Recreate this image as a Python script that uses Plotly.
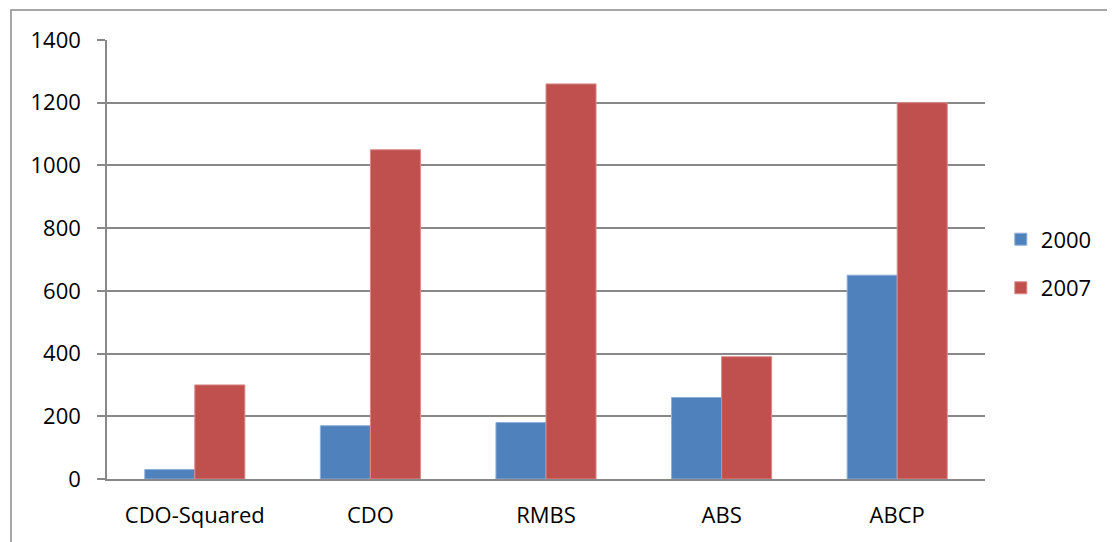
import plotly.graph_objects as go

categories = ["CDO-Squared", "CDO", "RMBS", "ABS", "ABCP"]
values_2000 = [30, 170, 180, 260, 650]
values_2007 = [300, 1050, 1260, 390, 1200]
y_ticks = [0, 200, 400, 600, 800, 1000, 1200, 1400]

FONT = "Open Sans, Lato, sans-serif"
GRID = "#888888"

fig = go.Figure()
fig.add_trace(go.Bar(name="2000", x=categories, y=values_2000, legendgroup="a",
                     marker=dict(color="#4F81BD", line=dict(color="#8EAEDB", width=1))))
fig.add_trace(go.Bar(name="2007", x=categories, y=values_2007, legendgroup="b",
                     marker=dict(color="#C0504D", line=dict(color="#D98A88", width=1))))

fig.update_layout(
    width=1107, height=534,
    margin=dict(l=99, r=130, t=32, b=63),
    paper_bgcolor="white", plot_bgcolor="white",
    barmode="group", bargap=0.43, bargroupgap=0,
    font=dict(family=FONT, size=22, color="black"),
    legend=dict(x=1.018, y=0.49, xanchor="left", yanchor="middle",
                font=dict(size=22), itemwidth=30, tracegroupgap=17,
                bgcolor="rgba(0,0,0,0)"),
    showlegend=True,
)
fig.update_yaxes(range=[0, 1400], tickvals=y_ticks, showgrid=True, gridcolor=GRID, gridwidth=1.5,
                 showline=True, linecolor=GRID, linewidth=1.5, ticks="outside", ticklen=8,
                 tickcolor=GRID, tickwidth=1.5, ticklabelstandoff=12, zeroline=False)
fig.update_xaxes(showline=True, linecolor=GRID, linewidth=1.5, ticks="", ticklabelstandoff=16,
                 showgrid=False)

fig.add_shape(type="rect", xref="paper", yref="paper",
              x0=(11 - 107) / 878, x1=1.2, y0=-0.2, y1=(479 - 10) / 439,
              line=dict(color="#8a8a8a", width=1.5), fillcolor="rgba(0,0,0,0)", layer="below")

fig.write_html("out.html")
